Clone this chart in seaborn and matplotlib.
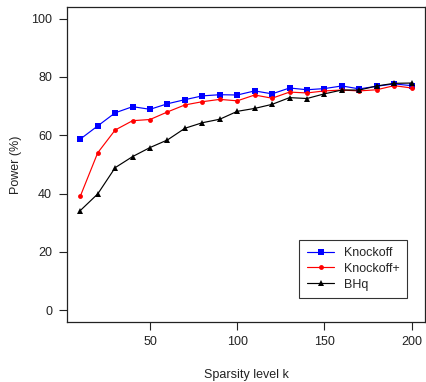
import matplotlib
matplotlib.use("Agg")
import matplotlib.pyplot as plt
import seaborn as sns
import pandas as pd

# Power of each procedure across sparsity levels
sparsity = [10, 20, 30, 40, 50, 60, 70, 80, 90, 100,
            110, 120, 130, 140, 150, 160, 170, 180, 190, 200]
knockoff = [58.7, 63.2, 67.7, 69.8, 68.9, 70.8, 72.2, 73.5, 73.9, 73.8,
            75.2, 74.2, 76.2, 75.6, 76.0, 76.9, 75.9, 76.8, 77.6, 77.0]
knockoff_plus = [39.1, 54.0, 61.8, 65.0, 65.4, 68.0, 70.4, 71.5, 72.3, 71.8,
                 73.8, 72.7, 74.8, 74.5, 75.2, 75.5, 75.2, 75.6, 77.0, 76.2]
bhq = [34.2, 39.9, 48.9, 52.7, 55.8, 58.4, 62.4, 64.3, 65.5, 68.2,
       69.2, 70.6, 72.9, 72.6, 74.2, 75.5, 75.5, 76.9, 77.8, 77.9]

methods = ["Knockoff", "Knockoff+", "BHq"]
colors = ["#0000ff", "#ff0000", "#000000"]
markers = ["s", "o", "^"]
sizes = [3.8, 3.5, 4.2]

FS = 9

sns.set_style("ticks")
plt.rcParams["font.family"] = ["Liberation Sans", "DejaVu Sans"]
plt.rcParams["font.size"] = FS

fig = plt.figure(figsize=(4.27, 3.82), dpi=100)
ax = fig.add_axes([0.157, 0.157, 0.838, 0.825])

df = pd.DataFrame({
    "k": sparsity * 3,
    "power": knockoff + knockoff_plus + bhq,
    "method": [m for m in methods for _ in sparsity],
})

for m, c, mk, ms in zip(methods, colors, markers, sizes):
    sub = df[df["method"] == m]
    sns.lineplot(data=sub, x="k", y="power", ax=ax, color=c, marker=mk,
                 markersize=ms, markeredgewidth=0, linewidth=0.85,
                 label=m, legend=False)

ax.set_xlim(2.4, 207.6)
ax.set_ylim(-4, 104)
ax.set_xticks([50, 100, 150, 200])
ax.set_yticks([0, 20, 40, 60, 80, 100])
ax.tick_params(direction="out", length=5.8, width=0.8, color="#222222",
               labelsize=FS, labelcolor="#222222")
ax.tick_params(axis="x", pad=4)
ax.tick_params(axis="y", pad=5)
for s in ax.spines.values():
    s.set_visible(True)
    s.set_linewidth(0.9)
    s.set_color("#222222")

ax.set_xlabel("Sparsity level k", fontsize=FS, color="#222222")
ax.set_ylabel("Power (%)", fontsize=FS, color="#222222")
ax.xaxis.set_label_coords(0.5, -0.148)
ax.yaxis.set_label_coords(-0.127, 0.5)

handles, labels = ax.get_legend_handles_labels()
leg = ax.legend(handles, labels, loc="lower right", bbox_to_anchor=(0.95, 0.076),
                borderaxespad=0, fancybox=False, frameon=True, edgecolor="black",
                handlelength=2.2, handletextpad=0.75, labelspacing=0.3,
                borderpad=0.6, fontsize=FS)
leg.get_frame().set_linewidth(0.8)

fig.savefig("out.png", dpi=100)
